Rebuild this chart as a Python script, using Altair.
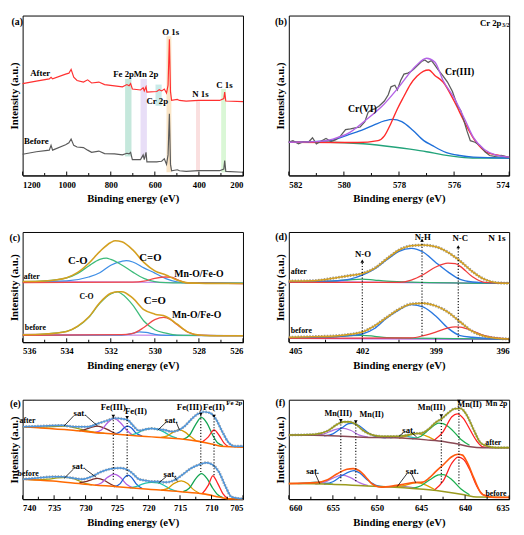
import altair as alt
import pandas as pd

SERIF = "Liberation Serif"
W = 226
H1, H2, H3 = 164, 113, 102

# ---------------- (a) survey ----------------
a_E = [1200,1138,1079,1071,1064,1005,990,980,968,953,924,905,887,854,828,783,747,727,717,710,702,665,653,648,640,636,591,580,569,557,547,540,534,529,524,498,488,458,402,348,306,287,283,278,200]
a_after = [290,298,305,310,305,320,323,335,310,300,295,302,292,295,287,283,280,287,283,290,273,270,277,267,280,263,265,271,267,273,260,285,430,265,237,240,237,235,237,237,237,243,263,235,233]
a_before = [67,75,80,95,80,97,103,115,95,90,88,80,73,77,69,68,65,70,68,73,50,50,65,50,73,43,43,44,45,53,35,65,195,35,15,18,15,13,15,15,15,20,47,13,10]
a_band_E1 = [735,665,597,547,413,299]
a_band_E2 = [706,636,569,525,395,277]
a_band_lo = [60,55,220,10,13,10]
a_band_hi = [305,305,287,440,235,273]
a_band_col = ["#9fd9c4","#d9c8f2","#a6dcd8","#f6d3a2","#f7c9c9","#c2f2bb"]
a_ticks = [1200,1000,800,600,400,200]
a_minor = [1100,900,700,500,300]
a_text = [("(a)",1250,483,10,"left"),("After",1120,322,9,"center"),("Before",1138,108,9,"center"),
          ("Fe 2p",742,319,9,"center"),("Mn 2p",640,319,9,"center"),("Cr 2p",589,235,9,"center"),
          ("O 1s",528,453,9,"center"),("N 1s",393,257,9,"center"),("C 1s",284,287,9,"center")]

# ---------------- (b) Cr 2p3/2 ----------------
b_raw_E = [582.0,581.85,581.65,581.47,581.29,581.14,581.0,580.82,580.65,580.47,580.29,580.12,579.94,579.76,579.59,579.41,579.24,579.12,579.0,578.88,578.71,578.53,578.39,578.29,578.15,578.06,577.94,577.82,577.68,577.59,577.47,577.33,577.18,577.06,576.94,576.82,576.71,576.59,576.41,576.24,576.06,575.88,575.76,575.65,575.53,575.41,575.24,575.06,574.88,574.71,574.53,574.29,574.0]
b_raw_v = [105,110,100,107,105,119,100,109,117,107,113,125,145,147,150,153,170,200,207,210,220,235,255,280,285,270,300,320,323,327,335,347,360,365,357,363,350,335,315,295,265,220,205,175,140,110,105,95,75,63,60,63,57]
b_fit_E = [582,581,580.4,579.8,579.2,578.6,578.0,577.4,577.0,576.7,576.4,576.0,575.6,575.3,574.9,574.5,574.0]
b_fit_v = [105,107,115,135,175,220,280,345,370,358,300,245,175,120,82,65,58]
b_cr3_E = [582,579.5,578.76,578.53,578.29,578.06,577.82,577.59,577.35,577.12,576.92,576.7,576.4,576.0,575.6,575.2,574.8,574.4,574.0]
b_cr3_v = [105,104,110,125,165,210,250,287,313,329,333,316,295,235,165,105,72,64,57]
b_cr6_E = [582,580.5,579.8,579.3,578.9,578.5,578.24,577.9,577.5,577.1,576.8,576.3,575.8,575.3,574.0]
b_cr6_v = [105,110,130,145,160,173,177,170,143,110,95,73,63,58,55]
b_bg_E = [582,580.5,579.3,578.2,577.6,577.0,576.4,575.8,575.2,574.0]
b_bg_v = [105,105,100,90,83,75,65,58,55,55]
b_ticks = [582,580,578,576,574]
b_minor = [581,579,577,575]
b_text = [("(b)",582.5,483,10,"left"),("Cr(VI)",579.33,210,10,"center"),("Cr(III)",575.8,325,10,"center"),
          ("Cr 2p",574.28,480,9,"right"),("3/2",574.26,474,6,"left")]

# ---------------- (c) O 1s ----------------
c_aenv_E = [536,535,534,533.5,533,532.5,532,531.8,531.5,531,530.5,530,529.5,529,528.5,528,527,526]
c_aenv_v = [186,188,198,214,242,278,306,311,308,283,245,219,206,191,182,181,180,180]
c_aco_E = [536,535,534,533.5,533,532.5,532.2,532,531.5,531,530.5,530,529.5,528.5,526]
c_aco_v = [186,188,197,211,234,254,258,254,237,215,196,186,183,182,181]
c_acdo_E = [536,534,533,532.5,532,531.5,531.3,531,530.5,530,529.5,529,528.5,528,526]
c_acdo_v = [185,188,200,213,236,248,250,246,228,212,195,185,182,182,181]
c_amo_E = [536,531,530.5,530,529.5,529.2,529,528.5,528,526]
c_amo_v = [183,184,187,196,200,199,192,182,181,180]
c_abase_E = [536,531,528,526]
c_abase_v = [186,184,182,180]
c_benv_E = [536,535,534,533.5,533,532.5,532,531.7,531.5,531,530.5,530,529.5,529,528.5,528,527.5,526]
c_benv_v = [23,25,33,49,77,121,150,155,155,135,100,86,79,56,31,22,20,20]
c_bco_E = [536,535,534,533.5,533,532.5,532,531.7,531.5,531,530.5,530,529.5,529,528,526]
c_bco_v = [23,25,33,48,76,119,148,154,148,114,65,38,28,22,21,20]
c_bcdo_E = [536,531.5,531,530.7,530.4,530,529.5,526]
c_bcdo_v = [21,22,27,32,30,24,21,20]
c_bmo_E = [536,531.5,531,530.5,530,529.6,529.3,529,528.5,528,526]
c_bmo_v = [21,23,27,45,69,76,70,54,31,22,20]
c_bbase_E = [536,531,526]
c_bbase_v = [24,22,20]
c_ticks = [536,534,532,530,528,526]
c_minor = [535,533,531,529,527]
c_text = [("(c)",536.6,318,10,"left"),("C-O",533.5,248,11,"center"),("C=O",530.2,257,11,"center"),
          ("Mn-O/Fe-O",528.0,210,10,"center"),("after",535.95,199,8,"left"),("C-O",533.1,138,8,"center"),
          ("C=O",530.0,125,11,"center"),("Mn-O/Fe-O",528.1,83,10,"center"),("before",535.9,43,8,"left")]

# ---------------- (d) N 1s ----------------
d_aenv_E = [405,404,403,402.5,402,401.5,401,400.5,400,399.5,399,398.5,398,397.5,397,396.5,396]
d_aenv_v = [187,188,198,204,210,226,255,282,295,297,292,275,248,216,192,182,180]
d_ablu_E = [405,403,402.5,402,401.5,401,400.5,400,399.5,399,398.5,398,397.5,397,396]
d_ablu_v = [185,188,193,205,224,252,278,287,275,244,215,192,184,182,180]
d_ared_E = [405,400.5,400,399.5,399,398.5,398.2,398,397.5,397,396]
d_ared_v = [183,183,190,207,230,242,240,232,200,183,180]
d_agrn_E = [405,403.5,403,402.5,402,401.5,401,400,396]
d_agrn_v = [185,186,188,191,193,190,187,184,180]
d_abase_E = [405,396]
d_abase_v = [185,180]
d_benv_E = [405,404,403,402.5,402,401.5,401,400.5,400,399.5,399,398.5,398,397.5,397,396.5,396]
d_benv_v = [15,17,20,24,31,50,76,101,117,119,111,92,62,33,18,12,10]
d_bblu_E = [405,403,402.5,402,401.5,401,400.5,400,399.5,399,398.5,398,397.5,397,396]
d_bblu_v = [13,17,20,25,42,74,99,115,107,80,43,20,15,12,10]
d_bred_E = [405,400,399.5,399,398.5,398.2,398,397.5,397,396.5,396]
d_bred_v = [12,13,20,31,44,47,46,35,20,13,10]
d_bgrn_E = [405,403,402.5,402,401.5,401,396]
d_bgrn_v = [13,17,20,21,18,14,10]
d_bbase_E = [405,396]
d_bbase_v = [12,9]
d_dot_E = [402.0,399.56,398.08]
d_dot_lo = [15,20,15]
d_dot_hi = [248,312,292]
d_ticks = [405,402,399,396]
d_minor = [403.5,400.5,397.5]
d_text = [("(d)",405.55,320,10,"left"),("N-O",401.97,270,9,"center"),("N-H",399.53,322,9,"center"),
          ("N-C",398.0,319,9,"center"),("N 1s",396.15,319,9.5,"right"),("after",404.92,215,8,"left"),
          ("before",404.92,33,8,"left")]

# ---------------- (e) Fe 2p ----------------
e_abg_E = [740,737.5,732.5,727.5,722.5,717.5,712.5,710,708.5,705]
e_abg_v = [232,229,222,212,204,197,187,177,170,167]
e_aenv_E = [740,737.7,735.2,733.7,732.6,731.1,729.6,728.1,726.6,725.3,724.0,723.3,722.5,721.5,720.5,719.5,718.4,717.4,716.4,715.4,714.4,713.4,712.3,711.3,710.3,709.3,708.3,707.3,706.3,705]
e_aenv_v = [232,234,236,237,234,232,232,242,252,260,257,254,237,220,224,227,224,222,217,220,232,252,272,280,277,257,217,182,170,170]
e_aolv_E = [740,737.5,735,733.2,731.5,730,728.5,727]
e_aolv_v = [232,231,233,234,228,220,214,211]
e_amar_E = [731,730,729,728.1,727,726,725]
e_amar_v = [219,224,231,234,228,218,209]
e_apur_E = [728.5,727.5,726.5,725.5,724.5,723.5,722.5]
e_apur_v = [214,222,245,259,246,222,205]
e_ablu_E = [725.5,724.5,723.8,723.3,722.7,722,721]
e_ablu_v = [208,216,230,234,228,212,202]
e_atea_E = [723,722,721,720,719.5,718.5,717.5,716.5,715.5]
e_atea_v = [205,210,220,226,227,224,215,203,196]
e_ayel_E = [718,717,716,715.1,714.2,713.3,712.5]
e_ayel_v = [198,203,216,222,215,200,188]
e_agrn_E = [714.5,713.5,712.5,711.6,710.7,709.8,709,708.2]
e_agrn_v = [192,205,240,262,243,205,180,172]
e_ared_E = [711.5,710.5,709.6,708.8,708,707.3]
e_ared_v = [183,200,222,205,180,168]
e_bbg_E = [740,735.2,730.1,725.0,720.0,714.9,711.3,708.8,707.3,705]
e_bbg_v = [64,58,48,40,32,24,17,7,1,1]
e_benv_E = [740,737.7,735.2,733.7,732.1,730.6,729.1,727.6,726.1,724.5,723.3,722.5,721.5,720.5,719.5,718.4,717.4,716.4,715.4,714.4,713.4,711.8,710.8,709.8,708.8,707.8,706.8,705]
e_benv_v = [64,68,72,72,68,64,72,87,97,100,94,82,64,60,57,57,54,57,67,82,97,112,117,110,87,42,7,1]
e_bolv_E = [740,738,736,734.5,733,731.5,730,729]
e_bolv_v = [64,62,64,68,70,63,50,46]
e_bmar_E = [731,730,729,728.1,727,726,725]
e_bmar_v = [52,56,63,67,60,48,40]
e_bpur_E = [728.5,727.5,726.5,725.5,724.5,723.5,722.5]
e_bpur_v = [45,52,70,80,70,48,36]
e_bblu_E = [725.5,724.5,723.8,723.3,722.7,722,721]
e_bblu_v = [39,50,70,77,70,50,34]
e_btea_E = [723,722,721,720,719.5,718.5,717.5,716.5,715.5]
e_btea_v = [36,40,48,53,54,52,44,32,25]
e_byel_E = [718,717,716,714.8,713.8,713,712]
e_byel_v = [29,34,50,59,50,33,20]
e_bgrn_E = [714.5,713.5,712.5,711.6,710.7,709.8,709,708.2]
e_bgrn_v = [24,36,66,82,66,35,14,5]
e_bred_E = [711.5,710.5,709.8,709,708.2,707.4]
e_bred_v = [17,45,75,50,18,2]
e_dot_E = [725.6,723.4,711.7,709.6]
e_dot_lo = [62,72,87,77]
e_dot_hi = [266,262,272,266]
e_arr_E1 = [731.9,729.9,717.2,715.6,731.9,730.1,717.2,715.9]
e_arr_E2 = [733.4,728.1,718.5,715.1,733.4,728.3,718.4,715.4]
e_arr_v1 = [267,267,247,247,97,97,72,72]
e_arr_v2 = [235,235,222,222,67,70,52,57]
e_ticks = [740,735,730,725,720,715,710,705]
e_minor = [737.5,732.5,727.5,722.5,717.5,712.5,707.5]
e_text = [("(e)",742.0,304,10,"left"),("Fe(III)",725.6,294,9,"center"),("Fe(II)",722.0,282,9,"center"),
          ("Fe(III)",713.5,297,9,"center"),("Fe(II)",709.6,297,9,"center"),("Fe 2p",705.1,307,7,"right"),
          ("sat.",730.9,275,9,"center"),("sat.",716.4,255,9,"center"),("sat.",731.1,107,9,"center"),
          ("sat.",716.6,80,9,"center"),("after",740.5,249,8,"left"),("before",740.8,82,8,"left")]

# ---------------- (f) Mn 2p ----------------
f_abg_E = [660,655.2,651.6,648.0,644.4,642.3,640.8,639.4,638.0,635]
f_abg_v = [214,212,207,205,198,192,184,175,172,172]
f_aenv_E = [660,657.0,655.6,654.5,653.8,653.1,652.4,651.6,650.6,649.5,648.0,647.0,645.9,644.8,644.1,643.4,642.6,641.9,641.2,640.5,639.8,639.0,638.3,637.6,636.5,635]
f_aenv_v = [214,217,228,250,258,258,250,230,215,210,210,212,218,222,235,255,270,288,302,303,280,230,190,178,172,172]
f_apur_E = [657,656,655,654,653,652,651]
f_apur_v = [213,218,230,237,230,214,207]
f_ablu_E = [656,655,654,653.2,652.8,652,651,650,649]
f_ablu_v = [211,218,238,252,253,245,222,208,205]
f_acya_E = [648.5,647.5,647,646.3,645.5]
f_acya_v = [205,210,212,208,203]
f_ayel_E = [647.5,646.5,645.5,644.5,643.5]
f_ayel_v = [203,212,220,212,198]
f_agrn_E = [646,645,644,643,642.5,641.5,640.5,639.5]
f_agrn_v = [201,210,235,254,252,232,200,180]
f_ared_E = [643.5,642.5,641.5,640.9,640.2,639.5,638.7,638,637]
f_ared_v = [197,225,275,285,270,235,195,175,172]
f_bbg_E = [660,655.2,651.6,648.0,644.4,642.3,640.1,638.7,635]
f_bbg_v = [52,50,45,40,32,25,15,7,6]
f_benv_E = [660,657.0,655.6,654.5,653.4,652.7,652.0,651.3,650.6,649.5,648.0,647.0,645.9,644.8,644.1,643.4,642.3,641.6,640.8,640.3,639.8,639.0,638.3,637.6,636.5,635]
f_benv_v = [52,55,65,85,100,102,95,75,52,40,45,50,55,57,70,90,120,140,150,147,125,70,25,10,6,6]
f_bcya_E = [659,658,657,656,655]
f_bcya_v = [52,54,57,54,50]
f_bpur_E = [657,656,655,654,653,652,651]
f_bpur_v = [50,56,70,80,72,55,45]
f_bblu_E = [656,655,654,653,652.6,652,651,650,649]
f_bblu_v = [50,58,78,93,95,88,62,45,41]
f_bgry_E = [649,648,647.3,646.5,645.5]
f_bgry_v = [41,42,44,41,36]
f_byel_E = [648,647,646,645.5,644.5,643.5]
f_byel_v = [40,45,53,55,48,33]
f_bgrn_E = [646,645,644,643,642.5,641.5,640.5,639.5]
f_bgrn_v = [36,45,65,81,82,65,35,15]
f_bred_E = [643.5,642.5,641.5,640.8,640.2,639.5,638.7,638,637]
f_bred_v = [30,60,120,140,133,100,45,15,7]
f_dot_E = [654.1,652.4,642.7,640.7]
f_dot_lo = [60,60,55,50]
f_dot_hi = [262,258,278,327]
f_arr_E1 = [647.0,646.1,657.0,646.6,646.1]
f_arr_E2 = [647.5,645.5,656.5,647.7,645.6]
f_arr_v1 = [222,222,85,85,85]
f_arr_v2 = [210,208,52,42,55]
f_ticks = [660,655,650,645,640,635]
f_minor = [657.5,652.5,647.5,642.5,637.5]
f_text = [("(f)",661.5,320,10,"left"),("Mn(III)",654.4,288,8.5,"center"),("Mn(II)",650.6,285,8.5,"center"),
          ("Mn(III)",643.8,307,8.5,"center"),("Mn(II)",639.5,318,8.5,"center"),("Mn 2p",635.2,319,8,"right"),
          ("sat.",646.4,232,9,"center"),("sat.",657.3,94,9,"center"),("sat.",646.0,94,9,"center"),
          ("after",636.8,188,8,"center"),("before",636.5,17,8,"center")]


# ---------------- helpers ----------------
def xenc(lo, hi, ticks, field="E"):
    return alt.X(f"{field}:Q", scale=alt.Scale(domain=[lo, hi], reverse=True, nice=False, zero=False),
                 axis=alt.Axis(values=ticks, format="d", title="Binding energy (eV)", grid=False, ticks=False))


def yenc(top, field="v"):
    return alt.Y(f"{field}:Q", scale=alt.Scale(domain=[0, top], nice=False, zero=False),
                 axis=alt.Axis(title="Intensity (a.u.)", labels=False, ticks=False, domain=False, grid=False))


class Panel:
    def __init__(self, lo, hi, ticks, top):
        self.X = xenc(lo, hi, ticks)
        self.Y = yenc(top)
        self.layers = []

    def line(self, E, v, color, w=1.3, interp="monotone", dash=None, opacity=1.0):
        df = pd.DataFrame({"E": E, "v": v})
        kw = dict(color=color, strokeWidth=w, interpolate=interp, opacity=opacity)
        if dash:
            kw["strokeDash"] = dash
        self.layers.append(alt.Chart(df).mark_line(**kw).encode(x=self.X, y=self.Y))

    def inticks(self, major, minor, h):
        for vals, ln in ((major, 4), (minor, 2.5)):
            df = pd.DataFrame({"E": vals})
            self.layers.append(alt.Chart(df).mark_rule(color="black", strokeWidth=1)
                               .encode(x=self.X, y=alt.value(h), y2=alt.value(h - ln)))

    def dots(self, E, lo, hi):
        df = pd.DataFrame({"E": E, "v": lo, "v2": hi})
        self.layers.append(alt.Chart(df).mark_rule(color="black", strokeWidth=1.1, strokeDash=[1.2, 1.8])
                           .encode(x=self.X, y=self.Y, y2="v2:Q"))

    def heads(self, E, v, shape):
        df = pd.DataFrame({"E": E, "v": v})
        self.layers.append(alt.Chart(df).mark_point(shape=shape, filled=True, size=14, color="black", opacity=1)
                           .encode(x=self.X, y=self.Y))

    def segs(self, E1, E2, v1, v2):
        df = pd.DataFrame({"E": E1, "E2": E2, "v": v1, "v2": v2})
        self.layers.append(alt.Chart(df).mark_rule(color="black", strokeWidth=0.8)
                           .encode(x=self.X, x2="E2:Q", y=self.Y, y2="v2:Q"))

    def texts(self, items):
        for al in ("left", "center", "right"):
            sub = [it for it in items if it[4] == al]
            if not sub:
                continue
            df = pd.DataFrame({"t": [s[0] for s in sub], "E": [s[1] for s in sub],
                               "v": [s[2] for s in sub], "s": [s[3] for s in sub]})
            self.layers.append(alt.Chart(df).mark_text(font=SERIF, fontWeight="bold", align=al,
                                                       baseline="middle", color="black")
                               .encode(x=self.X, y=self.Y, text="t:N",
                                       size=alt.Size("s:Q", scale=None, legend=None)))

    def chart(self, w, h):
        return alt.layer(*self.layers).properties(width=w, height=h)


# ---------------- (a) ----------------
pa = Panel(200, 1200, a_ticks, 505)
band_df = pd.DataFrame({"E": a_band_E1, "E2": a_band_E2, "v": a_band_lo, "v2": a_band_hi, "c": a_band_col})
pa.layers.append(alt.Chart(band_df).mark_rect(opacity=0.6)
                 .encode(x=pa.X, x2="E2:Q", y=pa.Y, y2="v2:Q", color=alt.Color("c:N", scale=None, legend=None)))
pa.line(a_E, a_before, "#5a5a5a", 1.2, "linear")
pa.line(a_E, a_after, "#ff3030", 1.2, "linear")
pa.inticks(a_ticks, a_minor, H1)
pa.texts(a_text)

# ---------------- (b) ----------------
pb = Panel(574, 582, b_ticks, 505)
pb.line(b_bg_E, b_bg_v, "#22a37a", 1.4)
pb.line(b_cr6_E, b_cr6_v, "#1e6fd9", 1.4)
pb.line(b_cr3_E, b_cr3_v, "#ff2a2a", 1.4)
pb.line(b_raw_E, b_raw_v, "#5c5c5c", 1.3, "linear")
pb.line(b_fit_E, b_fit_v, "#b463e6", 1.4)
pb.inticks(b_ticks, b_minor, H1)
pb.texts(b_text)

# ---------------- (c) ----------------
pc = Panel(526, 536, c_ticks, 338)
for base in ((c_abase_E, c_abase_v), (c_bbase_E, c_bbase_v)):
    pc.line(*base, "#c58be8", 1.3)
pc.line(c_acdo_E, c_acdo_v, "#3f8fe6", 1.3)
pc.line(c_aco_E, c_aco_v, "#3dbb7a", 1.3)
pc.line(c_amo_E, c_amo_v, "#f04848", 1.3)
pc.line(c_aenv_E, c_aenv_v, "#d4a020", 1.6)
pc.line(c_bcdo_E, c_bcdo_v, "#3f8fe6", 1.3)
pc.line(c_bco_E, c_bco_v, "#3dbb7a", 1.3)
pc.line(c_bmo_E, c_bmo_v, "#f04848", 1.3)
pc.line(c_benv_E, c_benv_v, "#d4a020", 1.6)
pc.inticks(c_ticks, c_minor, H2)
pc.texts(c_text)

# ---------------- (d) ----------------
pd_ = Panel(396, 405, d_ticks, 337)
for (E, v) in ((d_abase_E, d_abase_v), (d_bbase_E, d_bbase_v)):
    pd_.line(E, v, "#a64be0", 1.3)
for grp in (((d_agrn_E, d_agrn_v), (d_ablu_E, d_ablu_v), (d_ared_E, d_ared_v), (d_aenv_E, d_aenv_v)),
            ((d_bgrn_E, d_bgrn_v), (d_bblu_E, d_bblu_v), (d_bred_E, d_bred_v), (d_benv_E, d_benv_v))):
    (gE, gv), (bE, bv), (rE, rv), (eE, ev) = grp
    pd_.line(gE, gv, "#2fae6e", 1.3)
    pd_.line(bE, bv, "#2a78e0", 1.4)
    pd_.line(rE, rv, "#f03c3c", 1.3)
    pd_.line(eE, ev, "#7a7a7a", 3.0, dash=[1.5, 1.5], opacity=0.8)
    pd_.line(eE, ev, "#d4a020", 1.5)
pd_.dots(d_dot_E, d_dot_lo, d_dot_hi)
pd_.heads(d_dot_E, d_dot_hi, "triangle-up")
pd_.inticks(d_ticks, d_minor, H2)
pd_.texts(d_text)

# ---------------- (e) ----------------
pe = Panel(705, 740, e_ticks, 319)
for grp in ((e_aolv_E, e_aolv_v, e_amar_E, e_amar_v, e_apur_E, e_apur_v, e_ablu_E, e_ablu_v, e_atea_E, e_atea_v,
             e_ayel_E, e_ayel_v, e_agrn_E, e_agrn_v, e_ared_E, e_ared_v, e_abg_E, e_abg_v, e_aenv_E, e_aenv_v),
            (e_bolv_E, e_bolv_v, e_bmar_E, e_bmar_v, e_bpur_E, e_bpur_v, e_bblu_E, e_bblu_v, e_btea_E, e_btea_v,
             e_byel_E, e_byel_v, e_bgrn_E, e_bgrn_v, e_bred_E, e_bred_v, e_bbg_E, e_bbg_v, e_benv_E, e_benv_v)):
    cols = ["#a3a312", "#7a2e2e", "#b05ee0", "#1f5fd6", "#1fc2b0", "#d69a00", "#13a452", "#ff2323"]
    for k, c in enumerate(cols):
        pe.line(grp[2 * k], grp[2 * k + 1], c, 1.3)
    pe.line(grp[16], grp[17], "#ff6a00", 1.6)
    pe.line(grp[18], grp[19], "#7a7a7a", 2.8, dash=[1.5, 1.5], opacity=0.7)
    pe.line(grp[18], grp[19], "#4f96dc", 1.5)
pe.dots(e_dot_E, e_dot_lo, e_dot_hi)
pe.heads(e_dot_E, e_dot_hi, "triangle-down")
pe.segs(e_arr_E1, e_arr_E2, e_arr_v1, e_arr_v2)
pe.inticks(e_ticks, e_minor, H3)
pe.texts(e_text)

# ---------------- (f) ----------------
pf = Panel(635, 660, f_ticks, 332)
pf.line(f_apur_E, f_apur_v, "#b070e0", 1.3)
pf.line(f_ablu_E, f_ablu_v, "#2070e0", 1.3)
pf.line(f_acya_E, f_acya_v, "#20c0c0", 1.3)
pf.line(f_ayel_E, f_ayel_v, "#e0a000", 1.3)
pf.line(f_agrn_E, f_agrn_v, "#20b050", 1.3)
pf.line(f_ared_E, f_ared_v, "#ff2020", 1.3)
pf.line(f_abg_E, f_abg_v, "#8a4a55", 1.5)
pf.line(f_aenv_E, f_aenv_v, "#7a7a7a", 2.8, dash=[1.5, 1.5], opacity=0.6)
pf.line(f_aenv_E, f_aenv_v, "#9a9a1e", 1.6)
pf.line(f_bcya_E, f_bcya_v, "#20c0c0", 1.3)
pf.line(f_bpur_E, f_bpur_v, "#b070e0", 1.3)
pf.line(f_bblu_E, f_bblu_v, "#2070e0", 1.3)
pf.line(f_bgry_E, f_bgry_v, "#9a80b0", 1.3)
pf.line(f_byel_E, f_byel_v, "#e0a000", 1.3)
pf.line(f_bgrn_E, f_bgrn_v, "#20b050", 1.3)
pf.line(f_bred_E, f_bred_v, "#ff2020", 1.3)
pf.line(f_bbg_E, f_bbg_v, "#9a9a1e", 1.5)
pf.line(f_benv_E, f_benv_v, "#ff5a10", 1.7)
pf.dots(f_dot_E, f_dot_lo, f_dot_hi)
pf.heads(f_dot_E, f_dot_hi, "triangle-down")
pf.segs(f_arr_E1, f_arr_E2, f_arr_v1, f_arr_v2)
pf.inticks(f_ticks, f_minor, H3)
pf.texts(f_text)

chart = alt.concat(
    pa.chart(W, H1), pb.chart(W, H1),
    pc.chart(W, H2), pd_.chart(W, H2),
    pe.chart(W, H3), pf.chart(W, H3),
    columns=2, spacing={"row": 27, "column": 25}
).properties(
    padding={"left": 0, "top": 0, "right": 0, "bottom": 0}
).configure_view(
    stroke="black", strokeWidth=1
).configure_axis(
    labelFont=SERIF, labelFontWeight="bold", labelFontSize=9, labelColor="black",
    titleFont=SERIF, titleFontWeight="bold", titleFontSize=11, titleColor="black",
    domainColor="black"
).configure_axisX(
    labelPadding=5, titlePadding=4
).configure_axisY(titlePadding=3)

chart.save("out.html", embed_options={"renderer": "svg", "actions": False})
